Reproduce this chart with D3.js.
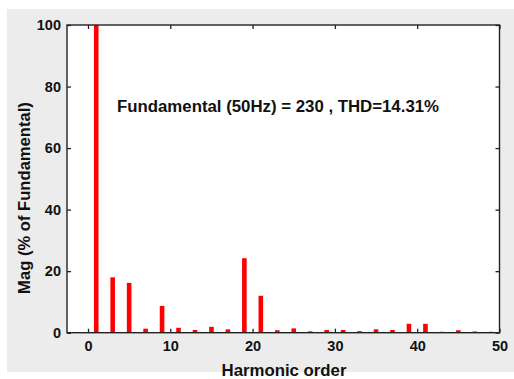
<!DOCTYPE html>
<html><head><meta charset="utf-8">
<script src="https://cdn.jsdelivr.net/npm/d3@7"></script>
<style>body{margin:0;background:#fff}svg{display:block}text{font-family:"Liberation Sans",Arial,sans-serif;font-weight:bold;fill:#111}</style>
</head><body>
<script>
const harmonics = [1,3,5,7,9,11,13,15,17,19,21,23,25,27,29,31,33,35,37,39,41,43,45,47,49];
const magnitudes = [100,18.0,16.2,1.3,8.7,1.6,0.9,1.9,1.1,24.2,12.0,0.8,1.4,0.45,0.9,0.9,0.5,1.1,0.9,2.9,2.9,0.3,0.8,0.4,0.3];
const xTicks = [0,10,20,30,40,50];
const yTicks = [0,20,40,60,80,100];
const annotation = "Fundamental (50Hz) = 230 , THD=14.31%";
const xLabel = "Harmonic order";
const yLabel = "Mag (% of Fundamental)";

const W = 514, H = 379;
const L = 67, R = 499.5, T = 25, B = 332.7;
const svg = d3.select("body").append("svg").attr("width", W).attr("height", H);
svg.append("rect").attr("x", 7).attr("y", 9).attr("width", W - 7).attr("height", 363).attr("fill", "#ececec");
svg.append("rect").attr("x", L).attr("y", T).attr("width", R - L).attr("height", B - T).attr("fill", "#fff");

const x = d3.scaleLinear().domain([-2.55, 50]).range([L, R]);
const y = d3.scaleLinear().domain([0, 100]).range([B, T]);

svg.selectAll("rect.bar").data(harmonics).enter().append("rect")
  .attr("class", "bar")
  .attr("x", d => x(d) - 2.3).attr("width", 4.6)
  .attr("y", (d, i) => y(magnitudes[i]))
  .attr("height", (d, i) => B - y(magnitudes[i]))
  .attr("fill", "#ff0000");

const tk = 4;
const gx = svg.append("g").attr("transform", `translate(0,${B})`)
  .call(d3.axisBottom(x).tickValues(xTicks).tickSize(-tk).tickPadding(8).tickFormat(d3.format("d")));
const gxt = svg.append("g").attr("transform", `translate(0,${T})`)
  .call(d3.axisTop(x).tickValues(xTicks).tickSize(-tk).tickFormat(""));
const gy = svg.append("g").attr("transform", `translate(${L},0)`)
  .call(d3.axisLeft(y).tickValues(yTicks).tickSize(-tk).tickPadding(6).tickFormat(d3.format("d")));
const gyr = svg.append("g").attr("transform", `translate(${R},0)`)
  .call(d3.axisRight(y).tickValues(yTicks).tickSize(-tk).tickFormat(""));
[gx, gxt, gy, gyr].forEach(g => {
  g.select(".domain").remove();
  g.selectAll(".tick line").attr("stroke", "#222").attr("stroke-width", 1.3);
  g.selectAll("text").attr("font-size", 14.5).attr("font-weight", "bold")
    .attr("font-family", "Liberation Sans, Arial, sans-serif").attr("fill", "#111");
});
svg.append("rect").attr("x", L).attr("y", T).attr("width", R - L).attr("height", B - T)
  .attr("fill", "none").attr("stroke", "#222").attr("stroke-width", 1.4);

svg.append("text").attr("x", 117).attr("y", 112).attr("font-size", 16)
  .attr("textLength", 322).attr("lengthAdjust", "spacingAndGlyphs").text(annotation);
svg.append("text").attr("x", 284).attr("y", 376).attr("text-anchor", "middle").attr("font-size", 16.8).text(xLabel);
svg.append("text").attr("transform", "translate(29.5,198) rotate(-90)").attr("text-anchor", "middle").attr("font-size", 16.6).text(yLabel);
</script>
</body></html>
